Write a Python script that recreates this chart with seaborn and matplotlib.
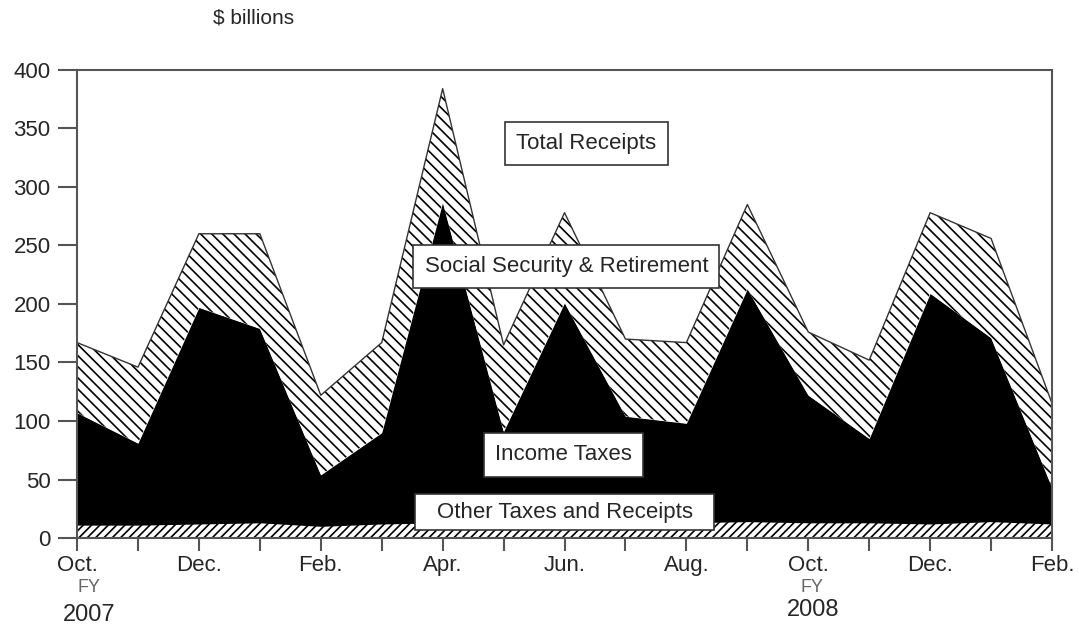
import numpy as np
import pandas as pd
import matplotlib.pyplot as plt
import seaborn as sns
from matplotlib.patches import Rectangle

# Monthly receipts, Oct FY2007 .. Feb FY2008 ($ billions)
months = ['Oct.', 'Nov.', 'Dec.', 'Jan.', 'Feb.', 'Mar.', 'Apr.', 'May', 'Jun.',
          'Jul.', 'Aug.', 'Sep.', 'Oct.', 'Nov.', 'Dec.', 'Jan.', 'Feb.']
other_taxes = [11, 11, 12, 13, 10, 12, 13, 12, 12, 12, 13, 14, 13, 13, 12, 14, 12]
income_taxes = [96, 70, 185, 166, 44, 78, 274, 79, 189, 92, 85, 199, 109, 72, 197, 157, 31]
social_security = [60, 65, 63, 81, 68, 77, 97, 74, 77, 66, 69, 72, 54, 67, 69, 85, 72]

df = pd.DataFrame({'month': months,
                   'other': other_taxes,
                   'income': income_taxes,
                   'social': social_security})
df['x'] = np.arange(len(df))
df['lvl1'] = df['other']
df['lvl2'] = df['lvl1'] + df['income']
df['total'] = df['lvl2'] + df['social']

sns.set_style('ticks')
plt.rcParams['font.family'] = ['Liberation Sans', 'DejaVu Sans']
plt.rcParams['hatch.linewidth'] = 1.2
plt.rcParams['hatch.color'] = 'black'

fig = plt.figure(figsize=(10.79, 6.30), dpi=100)
ax = fig.add_axes([0.0714, 0.146, 0.9036, 0.743])

x = df['x']
ax.fill_between(x, 0, df['lvl1'], facecolor='white', edgecolor='black',
                hatch='////', linewidth=0)
ax.fill_between(x, df['lvl1'], df['lvl2'], facecolor='black', edgecolor='black',
                linewidth=0)
ax.fill_between(x, df['lvl2'], df['total'], facecolor='white', edgecolor='black',
                hatch='\\\\\\', linewidth=0)
sns.lineplot(x='x', y='total', data=df, ax=ax, color='#333333', linewidth=1.0)

ax.set_xlim(0, 16)
ax.set_ylim(0, 400)
ax.set_xticks(range(0, 17, 2))
ax.set_xticklabels(months[::2])
ax.set_xticks(range(1, 17, 2), minor=True)
ax.set_yticks(range(0, 401, 50))
ax.set_xlabel('')
ax.set_ylabel('')
ax.tick_params(axis='x', which='both', length=9, width=1.5, color='#555555',
               labelsize=16, pad=3)
ax.tick_params(axis='y', length=14, width=1.5, color='#555555', labelsize=16, pad=5)
for s in ax.spines.values():
    s.set_color('#555555')
    s.set_linewidth(1.5)

box = dict(boxstyle='square,pad=0.5', facecolor='white', edgecolor='#333333', linewidth=1.2)
ax.text(8.36, 337, 'Total Receipts', ha='center', va='center', fontsize=16, bbox=box)
ax.text(8.03, 232, 'Social Security & Retirement', ha='center', va='center',
        fontsize=16, bbox=box)
ax.text(7.98, 71, 'Income Taxes', ha='center', va='center', fontsize=16, bbox=box)
ax.add_patch(Rectangle((5.55, 6.8), 4.91, 30.8, facecolor='white',
                       edgecolor='#333333', linewidth=1.2, zorder=4))
ax.text(8.01, 22, 'Other Taxes and Receipts', ha='center', va='center', fontsize=16,
        zorder=5)

fig.text(254 / 1079, 1 - 18 / 630, '$ billions', ha='center', va='center', fontsize=15)
fig.text(89 / 1079, 1 - 588 / 630, 'FY', ha='center', va='center', fontsize=13,
         color='#666666')
fig.text(89 / 1079, 1 - 615 / 630, '2007', ha='center', va='center', fontsize=17)
fig.text(812 / 1079, 1 - 587 / 630, 'FY', ha='center', va='center', fontsize=13,
         color='#666666')
fig.text(813 / 1079, 1 - 610 / 630, '2008', ha='center', va='center', fontsize=17)

fig.savefig('out.png', dpi=100)
